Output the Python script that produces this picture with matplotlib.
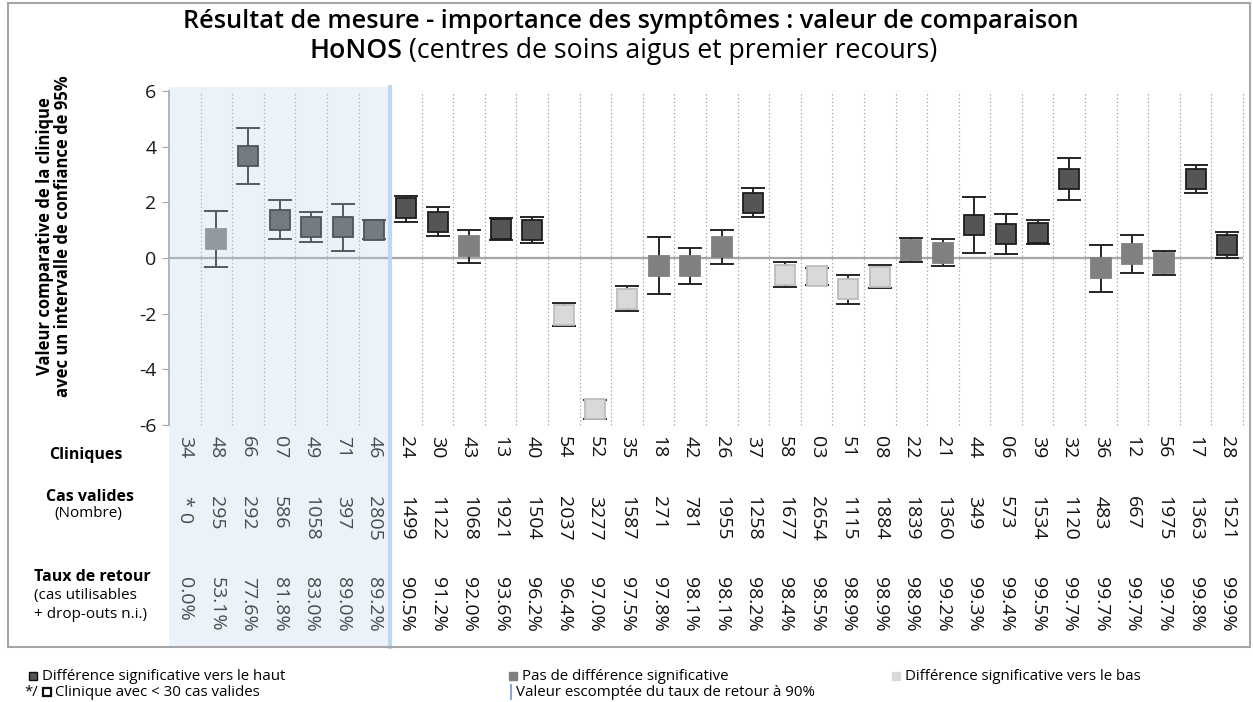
import matplotlib
matplotlib.use("Agg")
import matplotlib.pyplot as plt
from matplotlib.transforms import blended_transform_factory
from matplotlib.patches import Rectangle
from matplotlib.lines import Line2D

plt.rcParams['font.family'] = ['Open Sans', 'DejaVu Sans']
plt.rcParams['axes.unicode_minus'] = False

# ---------------- data ----------------
clinics = ["34", "48", "66", "07", "49", "71", "46", "24", "30", "43", "13", "40", "54", "52",
           "35", "18", "42", "26", "37", "58", "03", "51", "08", "22", "21", "44", "06", "39",
           "32", "36", "12", "56", "17", "28"]
values = [None, 0.67, 3.67, 1.38, 1.13, 1.11, 1.02, 1.78, 1.31, 0.42, 1.05, 1.01, -2.04, -5.44,
          -1.46, -0.28, -0.28, 0.38, 1.98, -0.60, -0.65, -1.12, -0.68, 0.30, 0.19, 1.19, 0.87, 0.91,
          2.85, -0.37, 0.14, -0.17, 2.83, 0.47]
ci_high = [None, 1.68, 4.68, 2.10, 1.67, 1.95, 1.37, 2.24, 1.84, 1.02, 1.45, 1.47, -1.62, -5.10,
           -1.01, 0.76, 0.35, 1.00, 2.51, -0.16, -0.35, -0.60, -0.25, 0.73, 0.67, 2.19, 1.59, 1.38,
           3.58, 0.45, 0.83, 0.26, 3.34, 0.92]
ci_low = [None, -0.34, 2.66, 0.67, 0.56, 0.25, 0.68, 1.31, 0.79, -0.17, 0.64, 0.55, -2.46, -5.79,
          -1.89, -1.30, -0.92, -0.22, 1.47, -1.05, -0.98, -1.64, -1.08, -0.13, -0.29, 0.17, 0.14, 0.49,
          2.10, -1.22, -0.54, -0.62, 2.32, 0.00]
signif = [None, "none", "up", "up", "up", "up", "up", "up", "up", "none", "up", "up", "down", "down",
          "down", "none", "none", "none", "up", "down", "down", "down", "down", "none", "none", "up", "up", "up",
          "up", "none", "none", "none", "up", "up"]
cases = ["* 0", "295", "292", "586", "1058", "397", "2805", "1499", "1122", "1068", "1921", "1504", "2037",
         "3277", "1587", "271", "781", "1955", "1258", "1677", "2654", "1115", "1884", "1839", "1360", "349",
         "573", "1534", "1120", "483", "667", "1975", "1363", "1521"]
rates = ["0.0%", "53.1%", "77.6%", "81.8%", "83.0%", "89.0%", "89.2%", "90.5%", "91.2%", "92.0%", "93.6%",
         "96.2%", "96.4%", "97.0%", "97.5%", "97.8%", "98.1%", "98.1%", "98.2%", "98.4%", "98.5%", "98.9%",
         "98.9%", "98.9%", "99.2%", "99.3%", "99.4%", "99.5%", "99.7%", "99.7%", "99.7%", "99.7%", "99.8%",
         "99.9%"]
n_below_target = 7  # clinics with return rate below 90%

title1 = "Résultat de mesure - importance des symptômes : valeur de comparaison"
title2_bold = "HoNOS"
title2_rest = " (centres de soins aigus et premier recours)"
ylabel = "Valeur comparative de la clinique\navec un intervalle de confiance de 95%"

styles = {
    "up": dict(face="#555555", edge="#1e1e1e"),
    "none": dict(face="#808080", edge="#808080"),
    "down": dict(face="#d9d9d9", edge="#bdbdbd"),
}

# ---------------- layout ----------------
W, H = 1253, 702
fig = plt.figure(figsize=(W / 100, H / 100), dpi=100)
fig.patch.set_facecolor("white")


def fx(px):
    return px / W


def fy(py):
    return 1 - py / H


ax = fig.add_axes([fx(169), fy(425), fx(1243) - fx(169), fy(91) - fy(425)])
n = len(clinics)
ax.set_xlim(-0.5, n - 0.5)
ax.set_ylim(-6, 6)

# frame around everything
fig.add_artist(Rectangle((fx(8), fy(647)), fx(1250) - fx(8), fy(3) - fy(647),
                         transform=fig.transFigure, fill=False, edgecolor="#a6a6a6", lw=1.5))

# vertical dotted separators
for k in range(n):
    if k == n_below_target - 1:
        continue
    ax.plot([k + 0.5, k + 0.5], [-6, 6], color="#a0a0a0", lw=0.9, ls=(0, (1, 2)), zorder=1,
            clip_on=False)

# zero line
ax.axhline(0, color="#a6a6a6", lw=1.6, zorder=1.5)

# error bars and boxes
for i in range(n):
    v = values[i]
    if v is None:
        continue
    st = styles[signif[i]]
    ax.errorbar([i], [v], yerr=[[v - ci_low[i]], [ci_high[i] - v]], fmt="none",
                ecolor="#262626", elinewidth=1.4, capsize=8.5, capthick=1.4, zorder=3)
    ax.plot([i], [v], marker="s", markersize=13.8, markerfacecolor=st["face"],
            markeredgecolor=st["edge"], markeredgewidth=1.3, ls="none", zorder=4)

# axes styling
for s in ["top", "right", "bottom"]:
    ax.spines[s].set_visible(False)
ax.spines["left"].set_color("#a6a6a6")
ax.spines["left"].set_linewidth(1.2)
ax.set_yticks([-6, -4, -2, 0, 2, 4, 6])
ax.set_yticklabels([str(t) for t in [-6, -4, -2, 0, 2, 4, 6]])
ax.tick_params(axis="y", length=5, color="#a6a6a6", labelsize=14, labelcolor="#1a1a1a", pad=4)
ax.set_xticks([])
ax.patch.set_alpha(0)

# table text under plot
tab_fs = 14
bt = blended_transform_factory(ax.transData, fig.transFigure)
for i in range(n):
    ax.text(i, fy(436), clinics[i], rotation=270, ha="center", va="top", fontsize=tab_fs,
            transform=bt, color="#111111", clip_on=False)
    ax.text(i, fy(496), cases[i], rotation=270, ha="center", va="top", fontsize=tab_fs,
            transform=bt, color="#111111", clip_on=False)
    ax.text(i, fy(577), rates[i], rotation=270, ha="center", va="top", fontsize=tab_fs,
            transform=bt, color="#111111", clip_on=False)

# row labels
lab_b = 11.5
lab_r = 11
fig.text(fx(86), fy(455), "Cliniques", ha="center", va="center", fontsize=lab_b, fontweight="bold")
fig.text(fx(90), fy(497), "Cas valides", ha="center", va="center", fontsize=lab_b, fontweight="bold")
fig.text(fx(88), fy(514), "(Nombre)", ha="center", va="center", fontsize=lab_r)
fig.text(fx(34), fy(577), "Taux de retour", ha="left", va="center", fontsize=lab_b, fontweight="bold")
fig.text(fx(34), fy(596), "(cas utilisables", ha="left", va="center", fontsize=lab_r)
fig.text(fx(34), fy(614), "+ drop-outs n.i.)", ha="left", va="center", fontsize=lab_r)

# shaded region for clinics below expected return rate
ax.add_patch(Rectangle((-0.5, fy(647)), n_below_target, fy(87) - fy(647), transform=bt,
                       facecolor="#bdd7ee", alpha=0.3, edgecolor="none", zorder=10, clip_on=False))
ax.add_line(Line2D([n_below_target - 0.5] * 2, [fy(647), fy(87)], transform=bt, color="#bdd7ee",
                   lw=3, zorder=11, clip_on=False))

# y label
fig.text(fx(54), fy(236), ylabel, rotation=90, ha="center", va="center", fontsize=12,
         fontweight="bold", linespacing=1.0)

# title
fig.text(fx(631), fy(22), title1, ha="center", va="center", fontsize=18.2, fontweight="semibold")
t2a = fig.text(0, fy(51), title2_bold, ha="left", va="center", fontsize=19.2, fontweight="semibold")
t2b = fig.text(0, fy(51), title2_rest, ha="left", va="center", fontsize=19.2)
fig.canvas.draw()
wa = t2a.get_window_extent().width
wb = t2b.get_window_extent().width
x0 = 623.5 - (wa + wb) / 2
t2a.set_x(x0 / W)
t2b.set_x((x0 + wa) / W)

# legend at bottom
leg_fs = 10.8
def sq(px, py, face, edge, lw=1.0):
    fig.add_artist(Line2D([fx(px)], [fy(py)], marker="s", markersize=6, markerfacecolor=face,
                          markeredgecolor=edge, markeredgewidth=lw, ls="none",
                          transform=fig.transFigure))

sq(33, 676, "#555555", "#111111")
fig.text(fx(42), fy(676), "Différence significative vers le haut", ha="left", va="center", fontsize=leg_fs)
fig.text(fx(24), fy(692), "*/", ha="left", va="center", fontsize=leg_fs)
sq(47, 692, "white", "#111111", 1.6)
fig.text(fx(55), fy(692), "Clinique avec < 30 cas valides", ha="left", va="center", fontsize=leg_fs)

sq(513, 676, "#808080", "#808080")
fig.text(fx(522), fy(676), "Pas de différence significative", ha="left", va="center", fontsize=leg_fs)
fig.add_artist(Line2D([fx(511), fx(511)], [fy(685), fy(699)], color="#8ea9c8", lw=1.5,
                      transform=fig.transFigure))
fig.text(fx(516), fy(692), "Valeur escomptée du taux de retour à 90%", ha="left", va="center",
         fontsize=leg_fs)

sq(896, 676, "#d9d9d9", "#d9d9d9")
fig.text(fx(905), fy(676), "Différence significative vers le bas", ha="left", va="center", fontsize=leg_fs)

fig.savefig("out.png", dpi=100, facecolor="white")
